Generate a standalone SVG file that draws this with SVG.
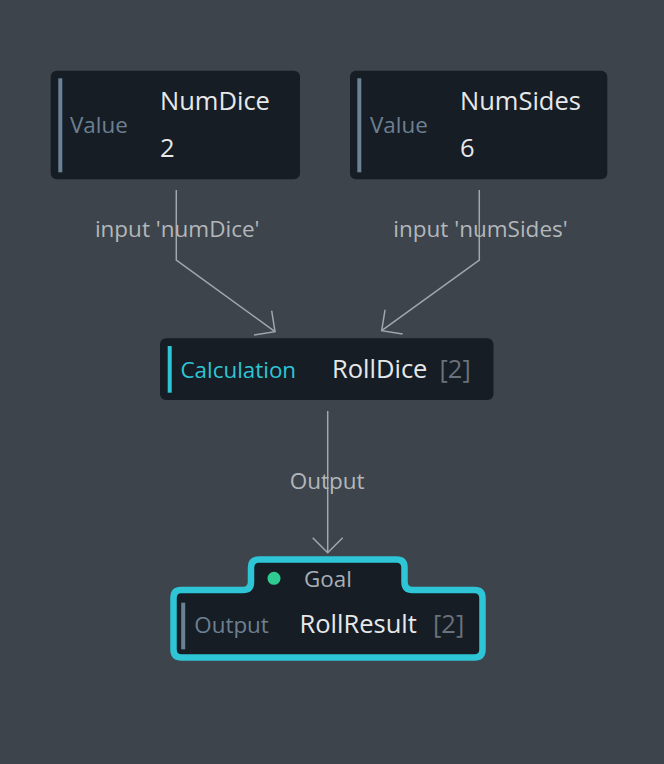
<svg xmlns="http://www.w3.org/2000/svg" width="664" height="764" viewBox="0 0 664 764">
<style>
.bg{fill:#3d444b}
.node{fill:#161d25}
.lbl{font-family:"Open Sans","Noto Sans",sans-serif;font-size:22.4px;fill:#6d8091}
.name{font-family:"Open Sans","Noto Sans",sans-serif;font-size:25.5px;fill:#e6e8ea}
.cnt{fill:#69717a}
.edge{fill:none;stroke:#a3a7ab;stroke-width:1.5}
.elbl{font-family:"Open Sans","Noto Sans",sans-serif;font-size:22.5px;fill:#b3b7bb;text-anchor:middle}
.bar{fill:#6a8294}
</style>
<defs>
<marker id="arr" markerUnits="userSpaceOnUse" markerWidth="40" markerHeight="40" viewBox="-20 -20 40 40" refX="0" refY="0" orient="auto">
<path d="M -15 -15 L 0 0 L -15 15" fill="none" stroke="#a3a7ab" stroke-width="1.5"/>
</marker>
</defs>
<rect class="bg" x="0" y="0" width="664" height="764"/>
<g id="connectors">
<path class="edge" d="M 176.3 190 L 176.3 260 L 275 331.7" marker-end="url(#arr)"/>
<path class="edge" d="M 479.3 190 L 479.3 260 L 381.7 330.7" marker-end="url(#arr)"/>
<path class="edge" d="M 327.7 411 L 327.7 552.7" marker-end="url(#arr)"/>
<text class="elbl" x="177.2" y="236.7">input 'numDice'</text>
<text class="elbl" x="480.5" y="236.7">input 'numSides'</text>
<text class="elbl" x="327.2" y="489.3">Output</text>
</g>
<g id="numdice">
<rect class="node" x="50.7" y="70.7" width="249.3" height="108.6" rx="6"/>
<rect class="bar" x="58.3" y="78.3" width="4" height="94"/>
<text class="lbl" x="70" y="132.7">Value</text>
<text class="name" x="160" y="110">NumDice</text>
<text class="name" x="160" y="156.7">2</text>
</g>
<g id="numsides">
<rect class="node" x="350" y="70.7" width="257.3" height="108.6" rx="6"/>
<rect class="bar" x="357.3" y="78.3" width="4" height="94"/>
<text class="lbl" x="370" y="132.7">Value</text>
<text class="name" x="460" y="110">NumSides</text>
<text class="name" x="460" y="156.7">6</text>
</g>
<g id="rolldice">
<rect class="node" x="160" y="338.3" width="333.5" height="61.7" rx="6"/>
<rect x="167.7" y="346" width="4" height="46.7" fill="#2ec6d6"/>
<text class="lbl" x="180.5" y="378.3" style="fill:#2ec6d6">Calculation</text>
<text class="name" x="332" y="378.3">RollDice</text>
<text class="name cnt" x="439.5" y="378.3">[2]</text>
</g>
<g id="rollresult">
<path d="M 181 590 L 243 590 Q 251 590 251 582 L 251 567.5 Q 251 559.5 259 559.5 L 396.5 559.5 Q 404.5 559.5 404.5 567.5 L 404.5 582 Q 404.5 590 412.5 590 L 474.5 590 Q 482.5 590 482.5 598 L 482.5 649.5 Q 482.5 657.5 474.5 657.5 L 181.5 657.5 Q 173.5 657.5 173.5 649.5 L 173.5 598 Q 173.5 590 181 590 Z" fill="#161d25" stroke="#2ec6d6" stroke-width="6.5" stroke-linejoin="round"/>
<circle cx="274" cy="578.3" r="6.5" fill="#2fcc92"/>
<text class="lbl" x="304" y="586.7" style="fill:#a9b0b6">Goal</text>
<rect class="bar" x="181.2" y="602.7" width="4" height="46.6"/>
<text class="lbl" x="194.3" y="633.3">Output</text>
<text class="name" x="299.5" y="633.3">RollResult</text>
<text class="name cnt" x="433" y="633.3">[2]</text>
</g>
</svg>
